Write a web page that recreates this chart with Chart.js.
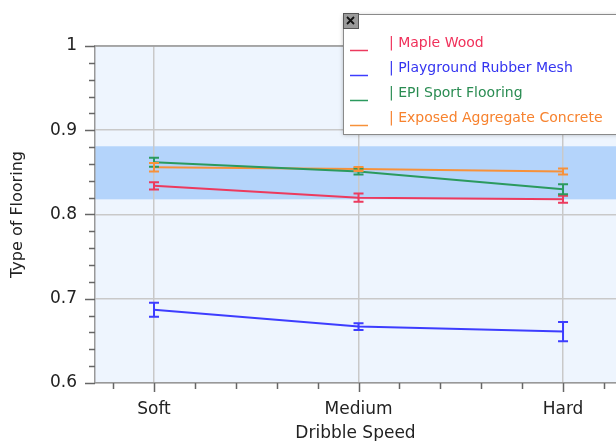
<!DOCTYPE html>
<html>
<head>
<meta charset="utf-8">
<script src="https://cdn.jsdelivr.net/npm/chart.js@4"></script>
<style>
  html, body { margin: 0; padding: 0; background: #fff; overflow: hidden; }
  canvas { display: block; }
</style>
</head>
<body>
<canvas id="chart" width="616" height="441"></canvas>
<script>
// data
const categories = ['Soft', 'Medium', 'Hard'];
const seriesNames = ['Maple Wood', 'Playground Rubber Mesh', 'EPI Sport Flooring', 'Exposed Aggregate Concrete'];
const mapleWood = [0.834, 0.820, 0.818];
const mapleWoodErr = [0.0042, 0.0048, 0.0042];
const rubberMesh = [0.687, 0.667, 0.661];
const rubberMeshErr = [0.0083, 0.004, 0.0115];
const epiSport = [0.862, 0.851, 0.830];
const epiSportErr = [0.0054, 0.0036, 0.006];
const aggregate = [0.856, 0.854, 0.851];
const aggregateErr = [0.005, 0.0024, 0.0036];
const bandRange = [0.818, 0.881];

const seriesColors = ['#ec3a5e', '#3d3dff', '#2b9a5e', '#f7913a'];
const legendTextColors = ['#f0305a', '#3434f0', '#2a8c52', '#f7822e'];
const FONT = 'DejaVu Sans';

const seriesValues = [mapleWood, rubberMesh, epiSport, aggregate];
const seriesErrors = [mapleWoodErr, rubberMeshErr, epiSportErr, aggregateErr];

function nearInt(v, mult) {
  const s = v * mult;
  return Math.abs(s - Math.round(s)) < 1e-6;
}

const datasets = seriesNames.map(function(name, i) {
  return {
    label: name,
    data: seriesValues[i].map((v, k) => ({ x: k, y: v })),
    errors: seriesErrors[i],
    borderColor: seriesColors[i],
    backgroundColor: seriesColors[i],
    borderWidth: 2,
    pointRadius: 0,
    tension: 0,
    fill: false
  };
});

// plot background, band and top border
const backdrop = {
  id: 'backdrop',
  beforeDraw(chart) {
    const { ctx, chartArea: a, scales: { y } } = chart;
    ctx.save();
    ctx.fillStyle = '#eef5fe';
    ctx.fillRect(a.left, a.top, chart.width - a.left, a.bottom - a.top);
    const t = y.getPixelForValue(bandRange[1]);
    const b = y.getPixelForValue(bandRange[0]);
    ctx.fillStyle = '#b4d4fb';
    ctx.fillRect(a.left, t, chart.width - a.left, b - t);
    ctx.restore();
  },
  afterDraw(chart) {
    const { ctx, chartArea: a, scales: { x, y } } = chart;
    ctx.save();
    ctx.strokeStyle = '#999';
    ctx.lineWidth = 1.5;
    ctx.beginPath();
    ctx.moveTo(a.left, a.top);
    ctx.lineTo(chart.width, a.top);
    ctx.stroke();
    // tick marks, long for majors and short for minors
    ctx.strokeStyle = '#666';
    ctx.lineWidth = 1.5;
    y.ticks.forEach(function(t) {
      const py = Math.round(y.getPixelForValue(t.value)) + 0.5;
      const len = nearInt(t.value, 10) ? 10 : 6;
      ctx.beginPath();
      ctx.moveTo(a.left - len, py);
      ctx.lineTo(a.left, py);
      ctx.stroke();
    });
    x.ticks.forEach(function(t) {
      const px = Math.round(x.getPixelForValue(t.value)) + 0.5;
      const len = nearInt(t.value, 1) ? 9 : 6;
      ctx.beginPath();
      ctx.moveTo(px, a.bottom);
      ctx.lineTo(px, a.bottom + len);
      ctx.stroke();
    });
    ctx.restore();
  }
};

// error bars from each dataset's errors array
const errorBars = {
  id: 'errorBars',
  afterDatasetsDraw(chart) {
    const { ctx, scales: { x, y } } = chart;
    ctx.save();
    chart.data.datasets.forEach(function(ds) {
      ctx.strokeStyle = ds.borderColor;
      ctx.lineWidth = 2;
      ds.data.forEach(function(p, k) {
        const px = x.getPixelForValue(p.x);
        const top = y.getPixelForValue(p.y + ds.errors[k]);
        const bot = y.getPixelForValue(p.y - ds.errors[k]);
        ctx.beginPath();
        ctx.moveTo(px, top); ctx.lineTo(px, bot);
        ctx.moveTo(px - 5, top); ctx.lineTo(px + 5, top);
        ctx.moveTo(px - 5, bot); ctx.lineTo(px + 5, bot);
        ctx.stroke();
      });
    });
    ctx.restore();
  }
};

// floating legend box with a close button
const legendBox = {
  id: 'legendBox',
  afterDraw(chart) {
    const ctx = chart.ctx;
    const bx = 343, by = 14, bw = 300, bh = 120;
    ctx.save();
    ctx.shadowColor = 'rgba(0,0,0,0.25)';
    ctx.shadowBlur = 4;
    ctx.shadowOffsetY = 1;
    ctx.fillStyle = '#fff';
    ctx.fillRect(bx, by, bw, bh);
    ctx.shadowColor = 'transparent';
    ctx.strokeStyle = '#8a8a8a';
    ctx.lineWidth = 1;
    ctx.strokeRect(bx + 0.5, by + 0.5, bw, bh);

    // close button
    ctx.fillStyle = '#9a9a9a';
    ctx.fillRect(bx, by - 1, 15, 15);
    ctx.strokeStyle = '#555';
    ctx.strokeRect(bx + 0.5, by - 0.5, 15, 15);
    ctx.strokeStyle = '#111';
    ctx.lineWidth = 1.8;
    ctx.beginPath();
    ctx.moveTo(bx + 4, by + 3); ctx.lineTo(bx + 11, by + 10);
    ctx.moveTo(bx + 11, by + 3); ctx.lineTo(bx + 4, by + 10);
    ctx.stroke();

    ctx.font = '14px "' + FONT + '"';
    ctx.textBaseline = 'middle';
    chart.data.datasets.forEach(function(ds, i) {
      const cy = 43 + i * 25;
      ctx.strokeStyle = ds.borderColor;
      ctx.lineWidth = 1.5;
      ctx.beginPath();
      ctx.moveTo(350, cy + 7.5); ctx.lineTo(368, cy + 7.5);
      ctx.stroke();
      ctx.fillStyle = legendTextColors[i];
      ctx.fillText('| ' + ds.label, 389, cy);
    });
    ctx.restore();
  }
};

const chart = new Chart(document.getElementById('chart'), {
  type: 'line',
  data: { datasets: datasets },
  plugins: [backdrop, errorBars, legendBox],
  options: {
    responsive: false,
    animation: false,
    devicePixelRatio: 1,
    layout: { padding: { top: 46, right: 0, left: 0, bottom: 0 } },
    plugins: {
      legend: { display: false },
      tooltip: { enabled: false }
    },
    scales: {
      x: {
        type: 'linear',
        min: -0.2885,
        max: 2.259,
        afterFit(s) { s.height = 58; s.paddingLeft = 0; s.paddingRight = 0; },
        border: { color: '#999', width: 1.5 },
        grid: {
          drawTicks: false,
          lineWidth: 1.5,
          color: c => nearInt(c.tick.value, 1) ? '#c9c9c9' : 'rgba(0,0,0,0)'
        },
        ticks: {
          stepSize: 0.2,
          includeBounds: false,
          autoSkip: false,
          maxRotation: 0,
          padding: 16,
          color: '#222',
          font: { family: FONT, size: 17 },
          callback(v) {
            const r = Math.round(v);
            return nearInt(v, 1) && categories[r] !== undefined ? categories[r] : '';
          }
        },
        title: {
          display: true,
          text: 'Dribble Speed',
          color: '#222',
          font: { family: FONT, size: 17 },
          padding: { top: 0, bottom: -3 }
        }
      },
      y: {
        min: 0.6,
        max: 1,
        afterFit(s) { s.width = 95; },
        border: { color: '#999', width: 1.5 },
        grid: {
          drawTicks: false,
          lineWidth: 1.5,
          color: c => nearInt(c.tick.value, 10) ? '#c9c9c9' : 'rgba(0,0,0,0)'
        },
        ticks: {
          stepSize: 0.02,
          autoSkip: false,
          padding: 18,
          color: '#222',
          font: { family: FONT, size: 17 },
          callback(v) {
            if (!nearInt(v, 10)) return '';
            return v === 1 ? '1' : v.toFixed(1);
          }
        },
        title: {
          display: true,
          text: 'Type of Flooring',
          color: '#222',
          font: { family: FONT, size: 16 },
          padding: { top: 8, bottom: 0 }
        }
      }
    }
  }
});
</script>
</body>
</html>
